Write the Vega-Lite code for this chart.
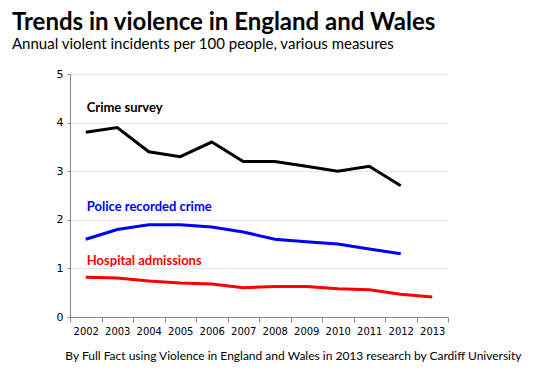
{
  "$schema": "https://vega.github.io/schema/vega-lite/v6.json",
  "width": 378,
  "height": 243,
  "autosize": {"type": "none"},
  "padding": {"left": 70, "top": 74, "right": 102, "bottom": 65},
  "background": "white",
  "title": {
    "text": "Trends in violence in England and Wales",
    "subtitle": "Annual violent incidents per 100 people, various measures",
    "anchor": "start",
    "frame": "group",
    "dx": -58,
    "offset": 16,
    "font": "Lato",
    "fontSize": 24,
    "fontWeight": "bold",
    "color": "#000000",
    "subtitleFont": "Lato",
    "subtitleFontSize": 15,
    "subtitleColor": "#000000",
    "subtitlePadding": 2
  },
  "datasets": {
    "series": [
      {"year": "2002", "measure": "Crime survey", "value": 3.8},
      {"year": "2003", "measure": "Crime survey", "value": 3.9},
      {"year": "2004", "measure": "Crime survey", "value": 3.4},
      {"year": "2005", "measure": "Crime survey", "value": 3.3},
      {"year": "2006", "measure": "Crime survey", "value": 3.6},
      {"year": "2007", "measure": "Crime survey", "value": 3.2},
      {"year": "2008", "measure": "Crime survey", "value": 3.2},
      {"year": "2009", "measure": "Crime survey", "value": 3.1},
      {"year": "2010", "measure": "Crime survey", "value": 3.0},
      {"year": "2011", "measure": "Crime survey", "value": 3.1},
      {"year": "2012", "measure": "Crime survey", "value": 2.7},
      {"year": "2002", "measure": "Police recorded crime", "value": 1.6},
      {"year": "2003", "measure": "Police recorded crime", "value": 1.8},
      {"year": "2004", "measure": "Police recorded crime", "value": 1.9},
      {"year": "2005", "measure": "Police recorded crime", "value": 1.9},
      {"year": "2006", "measure": "Police recorded crime", "value": 1.85},
      {"year": "2007", "measure": "Police recorded crime", "value": 1.75},
      {"year": "2008", "measure": "Police recorded crime", "value": 1.6},
      {"year": "2009", "measure": "Police recorded crime", "value": 1.55},
      {"year": "2010", "measure": "Police recorded crime", "value": 1.5},
      {"year": "2011", "measure": "Police recorded crime", "value": 1.4},
      {"year": "2012", "measure": "Police recorded crime", "value": 1.3},
      {"year": "2002", "measure": "Hospital admissions", "value": 0.82},
      {"year": "2003", "measure": "Hospital admissions", "value": 0.8},
      {"year": "2004", "measure": "Hospital admissions", "value": 0.74},
      {"year": "2005", "measure": "Hospital admissions", "value": 0.7},
      {"year": "2006", "measure": "Hospital admissions", "value": 0.68},
      {"year": "2007", "measure": "Hospital admissions", "value": 0.6},
      {"year": "2008", "measure": "Hospital admissions", "value": 0.63},
      {"year": "2009", "measure": "Hospital admissions", "value": 0.63},
      {"year": "2010", "measure": "Hospital admissions", "value": 0.58},
      {"year": "2011", "measure": "Hospital admissions", "value": 0.56},
      {"year": "2012", "measure": "Hospital admissions", "value": 0.47},
      {"year": "2013", "measure": "Hospital admissions", "value": 0.41}
    ],
    "labels": [
      {"year": "2002", "measure": "Crime survey", "value": 4.31},
      {"year": "2002", "measure": "Police recorded crime", "value": 2.27},
      {"year": "2002", "measure": "Hospital admissions", "value": 1.16}
    ]
  },
  "layer": [
    {
      "data": {"name": "series"},
      "mark": {"type": "line", "strokeWidth": 3, "strokeJoin": "miter"},
      "encoding": {
        "x": {"field": "year", "type": "ordinal", "bandPosition": 0.5},
        "y": {"field": "value", "type": "quantitative"},
        "color": {"field": "measure", "type": "nominal", "legend": null}
      }
    },
    {
      "data": {"name": "labels"},
      "mark": {"type": "text", "align": "left", "baseline": "middle", "dx": 1, "font": "Lato", "fontSize": 13, "fontWeight": "bold"},
      "encoding": {
        "x": {"field": "year", "type": "ordinal", "bandPosition": 0.5},
        "y": {"field": "value", "type": "quantitative"},
        "text": {"field": "measure"},
        "color": {"field": "measure", "type": "nominal", "legend": null}
      }
    }
  ],
  "resolve": {"scale": {"color": "shared"}},
  "encoding": {
    "x": {
      "field": "year",
      "type": "ordinal",
      "scale": {"type": "band", "domain": ["2002","2003","2004","2005","2006","2007","2008","2009","2010","2011","2012","2013"], "paddingInner": 0, "paddingOuter": 0},
      "axis": {
        "title": "By Full Fact using Violence in England and Wales in 2013 research by Cardiff University",
        "titleX": 451,
        "titleY": 38,
        "titleAlign": "right",
        "titleBaseline": "middle",
        "titleFont": "Lato",
        "titleFontSize": 12,
        "titleFontWeight": "normal",
        "titleColor": "#000000",
        "labelAngle": 0,
        "labelFont": "DejaVu Sans",
        "labelFontSize": 10,
        "labelColor": "#000000",
        "labelPadding": 4,
        "tickBand": "extent",
        "tickSize": 5,
        "tickColor": "#888888",
        "domainColor": "#888888",
        "grid": false
      }
    },
    "y": {
      "field": "value",
      "type": "quantitative",
      "scale": {"domain": [0, 5]},
      "axis": {
        "title": null,
        "values": [0,1,2,3,4,5],
        "labelFont": "DejaVu Sans",
        "labelFontSize": 11,
        "labelColor": "#000000",
        "labelPadding": 4,
        "tickSize": 3,
        "tickColor": "#888888",
        "domainColor": "#888888",
        "gridColor": "#e6e6e6"
      }
    },
    "color": {
      "field": "measure",
      "type": "nominal",
      "scale": {"domain": ["Crime survey", "Police recorded crime", "Hospital admissions"], "range": ["#000000", "#0000ff", "#ff0000"]},
      "legend": null
    }
  },
  "config": {"view": {"stroke": null}}
}
